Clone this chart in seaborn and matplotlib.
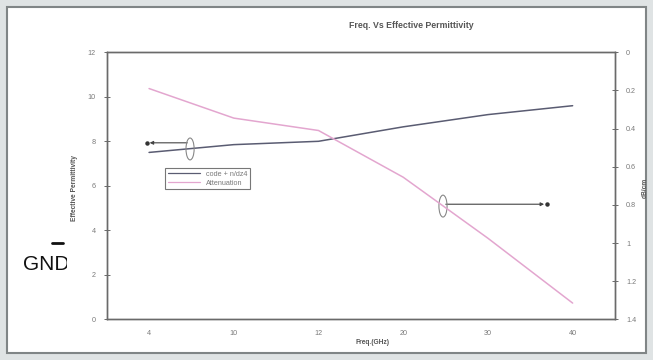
import numpy as np
import pandas as pd
import matplotlib
matplotlib.use('Agg')
import matplotlib.pyplot as plt
import seaborn as sns
from matplotlib.patches import Rectangle, Ellipse
from matplotlib.lines import Line2D
from matplotlib.transforms import Bbox

# Data
freq_labels = ['4', '10', '12', '20', '30', '40']
eff_perm = [7.5, 7.85, 8.0, 8.65, 9.2, 9.6]
attenuation = [0.19, 0.345, 0.41, 0.655, 0.975, 1.315]
left_ticks = [0, 2, 4, 6, 8, 10, 12]
right_ticks = [0, 0.2, 0.4, 0.6, 0.8, 1.0, 1.2, 1.4]
right_tick_labels = ['0', '0.2', '0.4', '0.6', '0.8', '1', '1.2', '1.4']

df = pd.DataFrame({'freq': freq_labels, 'eps': eff_perm, 'att': attenuation})

sns.set_style('white')
plt.rcParams['font.family'] = ['Liberation Sans', 'DejaVu Sans']

W, H = 653, 360
fig = plt.figure(figsize=(W / 100, H / 100), dpi=100)
fig.patch.set_facecolor('#dfe3e4')

# white panel with grey border
fig.patches.append(Rectangle((7 / W, 1 - 353 / H), 639 / W, 346 / H, transform=fig.transFigure,
                             facecolor='white', edgecolor='#808586', lw=1.5, zorder=0))

ax = fig.add_axes([106.7 / W, 1 - 319.3 / H, 508.3 / W, 267 / H])
ax.set_zorder(2)
ax.patch.set_alpha(0)
grey = '#6a6a6a'
line_col = '#5a5c72'
pink = '#e3a6cf'
tick_col = '#7a7a7a'

sns.lineplot(data=df, x='freq', y='eps', ax=ax, color=line_col, lw=1.1, sort=False,
             label='code + n/dz4', legend=False)
ax.set_xlim(-0.5, 5.5)
ax.set_ylim(0, 12)
ax.set_yticks(left_ticks)
ax.set_yticklabels([str(t) for t in left_ticks])

ax2 = ax.twinx()
sns.lineplot(data=df, x='freq', y='att', ax=ax2, color=pink, lw=1.1, sort=False,
             label='Attenuation', legend=False)
ax2.set_ylim(1.4, 0)
ax2.set_yticks(right_ticks)
ax2.set_yticklabels(right_tick_labels)
ax2.set_xlim(-0.5, 5.5)

for a in (ax, ax2):
    for s in a.spines.values():
        s.set_color(grey)
        s.set_linewidth(1.0)
    a.set_xlabel('')
    a.set_ylabel('')

ax.set_xticks(range(len(freq_labels)))
ax.set_xticklabels(freq_labels)
ax.set_xticks(np.arange(-0.5, 6, 1.0), minor=True)
ax.tick_params(axis='x', which='major', length=0, labelsize=5.2, labelcolor=tick_col, pad=8)
ax.tick_params(axis='x', which='minor', length=4, direction='inout', color=grey, width=0.7)
ax.tick_params(axis='y', length=4, direction='inout', color=grey, width=0.7,
               labelsize=5.2, labelcolor=tick_col, pad=6, left=True)
ax2.tick_params(axis='y', length=4, direction='inout', color=grey, width=0.7,
                labelsize=5.2, labelcolor=tick_col, pad=6, right=True)

# legend
handles = [Line2D([], [], color=line_col, lw=0.9), Line2D([], [], color=pink, lw=0.9)]
leg = ax.legend(handles, ['code + n/dz4', 'Attenuation'], loc='upper left',
                bbox_to_anchor=(0.108, 0.58), fontsize=5.2, frameon=True, fancybox=False,
                handlelength=4.5, borderpad=0.35, labelspacing=0.3, handletextpad=0.8)
leg.get_frame().set_edgecolor('#555555')
leg.get_frame().set_linewidth(0.8)
for t in leg.get_texts():
    t.set_color(tick_col)

# annotation ellipses and arrows
tr = ax.transAxes
ax.add_patch(Ellipse((0.164, 0.638), 0.016, 0.082, transform=tr, fill=False,
                     edgecolor='#888888', lw=0.8, zorder=5))
ax.annotate('', xy=(0.079, 0.661), xytext=(0.164, 0.661), xycoords=tr,
            arrowprops=dict(arrowstyle='-|>', color='#444444', lw=0.8, mutation_scale=5))
ax.plot([0.079], [0.661], 'o', color='#333333', ms=2.2, transform=tr)
ax.add_patch(Ellipse((0.6616, 0.424), 0.016, 0.082, transform=tr, fill=False,
                     edgecolor='#888888', lw=0.8, zorder=5))
ax.annotate('', xy=(0.866, 0.431), xytext=(0.6616, 0.431), xycoords=tr,
            arrowprops=dict(arrowstyle='-|>', color='#444444', lw=0.8, mutation_scale=5))
ax.plot([0.866], [0.431], 'o', color='#333333', ms=2.2, transform=tr)

# titles and labels
fig.text(411 / W, 1 - 26 / H, 'Freq. Vs Effective Permittivity', ha='center', va='center',
         fontsize=6.3, fontweight='bold', color='#555555')
fig.text(372 / W, 1 - 343 / H, 'Freq.(GHz)', ha='center', va='center',
         fontsize=4.8, fontweight='bold', color='#555555')
fig.text(75 / W, 1 - 188 / H, 'Effective Permittivity', ha='center', va='center',
         rotation=90, fontsize=4.8, fontweight='bold', color='#555555')
fig.text(645 / W, 1 - 188 / H, 'dB/cm', ha='center', va='center',
         rotation=90, fontsize=4.8, fontweight='bold', color='#555555')

# leftover "GND" label partly hidden behind the chart picture
gnd = fig.text(23 / W, 1 - 265 / H, 'GND', ha='left', va='center', fontsize=15,
               color='#111111', zorder=1)
gnd.set_clip_box(Bbox.from_extents(0, 0, 67, H))
gnd.set_clip_on(True)
fig.lines.append(Line2D([52 / W, 63 / W], [1 - 243 / H, 1 - 243 / H], transform=fig.transFigure,
                        color='#111111', lw=2))

fig.savefig('out.png', dpi=100, facecolor=fig.get_facecolor())
